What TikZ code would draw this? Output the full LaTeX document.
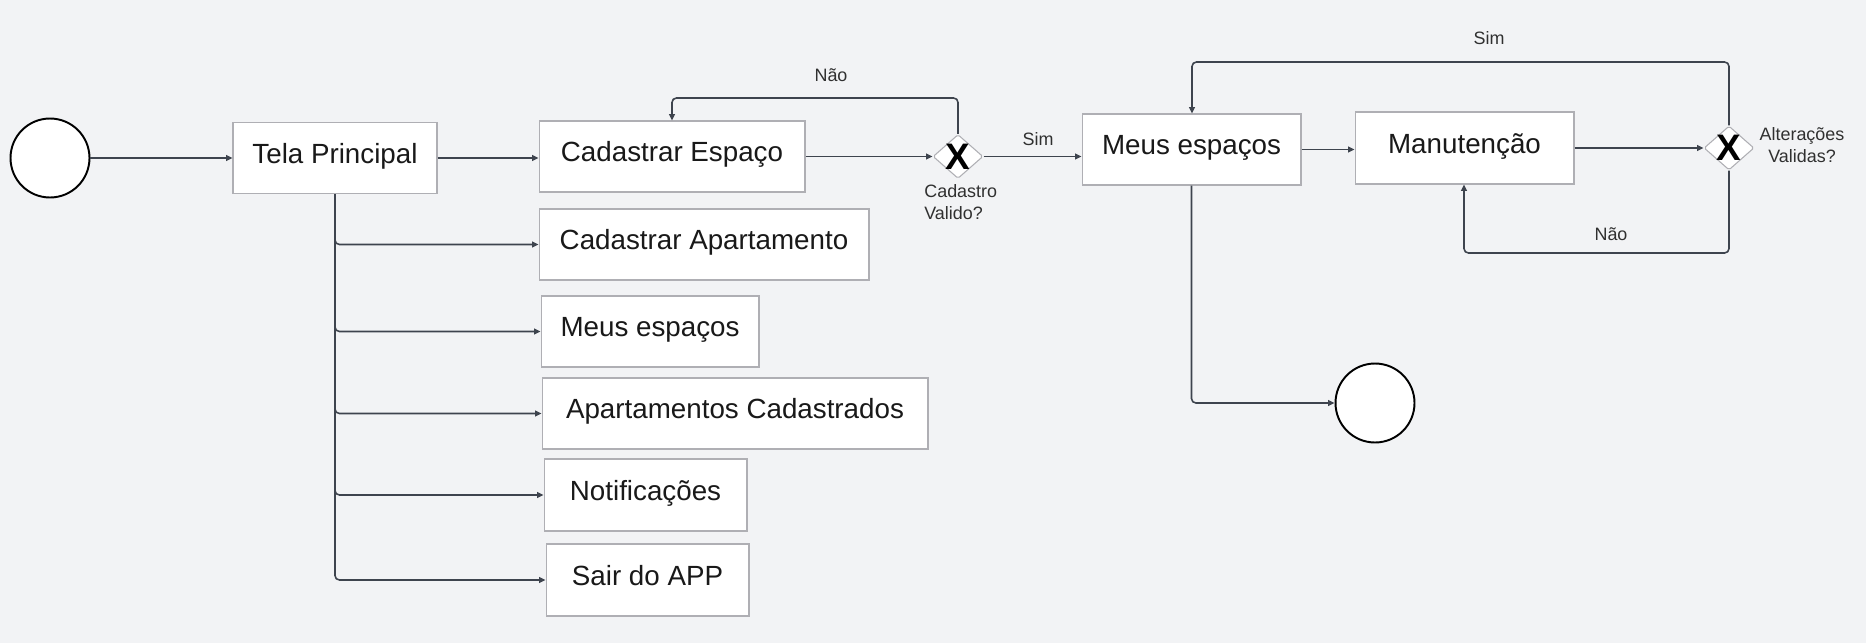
\documentclass[tikz,border=0pt]{standalone}
\usepackage{fontspec}
\setmainfont{Liberation Sans}
\usepackage{tikz}
\usetikzlibrary{arrows.meta, shapes.geometric}

\definecolor{bgcol}{RGB}{242,243,245}
\definecolor{linecol}{RGB}{62,68,78}
\definecolor{edgecol}{RGB}{175,175,180}
\definecolor{txtcol}{RGB}{25,25,25}

\tikzset{
	box/.style={rectangle, draw=edgecol, line width=0.6pt, fill=white,
		minimum height=1.42cm, inner sep=0pt, text height=0.45cm, text depth=0.25cm,
		text=txtcol, font=\fontsize{15.8}{18}\selectfont},
	terminal/.style={circle, draw=black, line width=1.1pt, fill=white,
		minimum size=1.58cm, inner sep=0pt},
	gate/.style={diamond, draw=edgecol, line width=0.6pt, fill=white,
		minimum width=1cm, minimum height=0.88cm, inner sep=0pt, rounded corners=1pt,
		label={[font=\bfseries\fontsize{21}{21}\selectfont, text=black]center:X}},
	flow/.style={-{Triangle[length=3.6pt,width=3.2pt]}, draw=linecol,
		line width=0.9pt, rounded corners=2.5pt},
	lbl/.style={text=txtcol!90, font=\fontsize{10.2}{12.5}\selectfont, inner sep=0pt}
}

\begin{document}
\begin{tikzpicture}[x=0.02cm, y=-0.02cm]
			
			\fill[bgcol] (0,0) rectangle (1866,643);
			\useasboundingbox (0,0) rectangle (1866,643);
			
			% main line
			\node[terminal] (inicio) at (50,158) {};
			\node[box, minimum width=4.08cm] (tela) at (335,158) {Tela Principal};
			\node[box, minimum width=5.32cm] (cadEsp) at (672,156.5) {Cadastrar Espaço};
			\node[gate] (g1) at (958,156.5) {};
			\node[box, minimum width=4.38cm] (meusA) at (1191.5,149.5) {Meus espaços};
			\node[box, minimum width=4.38cm, minimum height=1.44cm] (manut) at (1464.5,148) {Manutenção};
			\node[gate] (g2) at (1729,148) {};
			\node[terminal] (fim) at (1375,403) {};
			
			% menu options
			\node[box, minimum width=6.6cm] (cadAp) at (704,244.5) {Cadastrar Apartamento};
			\node[box, minimum width=4.36cm] (meusB) at (650,331.5) {Meus espaços};
			\node[box, minimum width=7.72cm] (apCad) at (735,413.5) {Apartamentos Cadastrados};
			\node[box, minimum width=4.06cm, minimum height=1.44cm] (notif) at (645.5,495) {Notificações};
			\node[box, minimum width=4.06cm, minimum height=1.44cm] (sair) at (647.5,580) {Sair do APP};
			
			% labels
			\node[lbl] (naoA) at (831,75) {Não};
			\node[lbl] (simA) at (1038,139) {Sim};
			\node[lbl, anchor=west, align=left] (qA) at (924,202) {Cadastro\\Valido?};
			\node[lbl] (simB) at (1489,38) {Sim};
			\node[lbl] (naoB) at (1611,234) {Não};
			\node[lbl, align=center] (qB) at (1802,145) {Alterações\\Validas?};
			
			% bends
			\coordinate (n1) at (672,98);
			\coordinate (s2) at (1192,62);
			\coordinate (n2) at (1464,253);
			
			\draw[flow] (inicio) -- (tela);
			\draw[flow] (tela.east) -- (tela.east -| cadEsp.west);
			\draw[flow] (cadEsp) -- (g1);
			\draw[flow] (g1.north) |- (n1) -- (n1 |- cadEsp.north);
			\draw[flow] (g1.east) -- (g1.east -| meusA.west);
			\draw[flow] (meusA.east) -- (meusA.east -| manut.west);
			\draw[flow] (manut) -- (g2);
			\draw[flow] (g2.north) |- (s2) -- (s2 |- meusA.north);
			\draw[flow] (g2.south) |- (n2) -- (n2 |- manut.south);
			\draw[flow] (meusA.south) |- (fim.west);
			\foreach \b in {cadAp,meusB,apCad,notif,sair}
				\draw[flow] (tela.south) |- (\b.west);
		\end{tikzpicture}
\end{document}
